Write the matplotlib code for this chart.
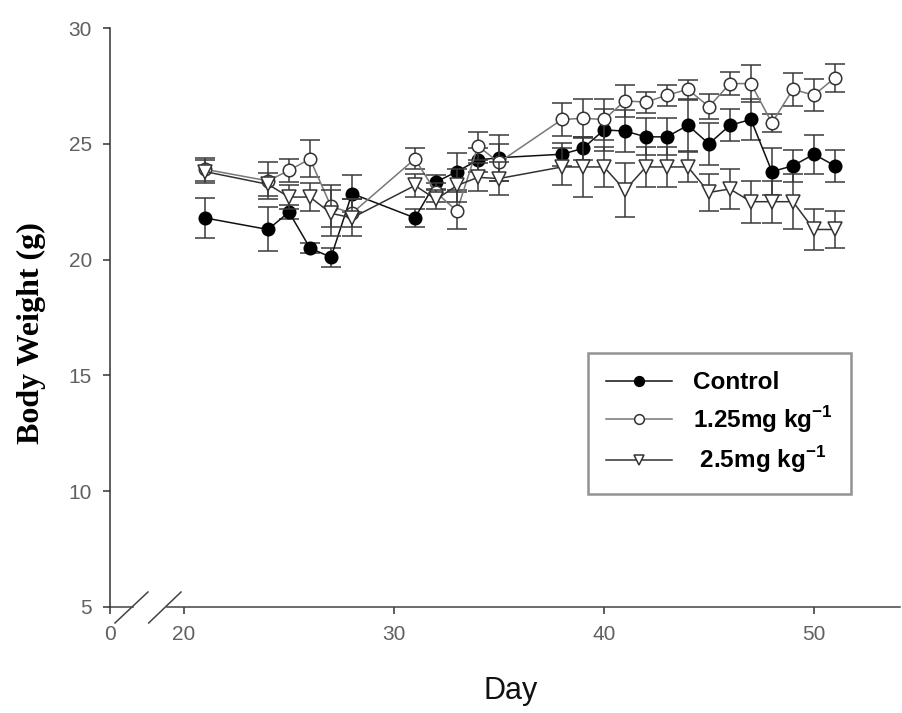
import matplotlib
matplotlib.use("Agg")
import matplotlib.pyplot as plt
from matplotlib.lines import Line2D

plt.rcParams["mathtext.fontset"] = "custom"
plt.rcParams["mathtext.bf"] = "Liberation Sans:bold"
plt.rcParams["mathtext.rm"] = "Liberation Sans:bold"

# body weight (g) per group, mean and SEM
days = [21, 24, 25, 26, 27, 28, 31, 32, 33, 34, 35, 38, 39, 40, 41, 42, 43,
        44, 45, 46, 47, 48, 49, 50, 51]

control = [21.8, 21.3, 22.05, 20.5, 20.1, 22.85, 21.8, 23.35, 23.8, 24.3, 24.4,
           24.55, 24.8, 25.6, 25.55, 25.3, 25.3, 25.8, 25.0, 25.8, 26.05, 23.8,
           24.05, 24.55, 24.05]
control_err = [0.85, 0.95, 0.3, 0.2, 0.4, 0.8, 0.4, 0.3, 0.8, 0.5, 1.0, 0.5,
               0.5, 0.9, 0.9, 0.8, 0.8, 1.1, 0.9, 0.7, 0.9, 1.0, 0.7, 0.85, 0.7]

dose_125 = [23.9, 23.4, 23.85, 24.35, 22.3, 22.0, 24.35, 22.9, 22.1, 24.9, 24.2,
            26.05, 26.1, 26.05, 26.85, 26.8, 27.1, 27.35, 26.6, 27.6, 27.6, 25.9,
            27.35, 27.1, 27.85]
dose_125_err = [0.5, 0.8, 0.5, 0.8, 0.9, 0.6, 0.45, 0.4, 0.8, 0.6, 0.8, 0.7,
                0.85, 0.9, 0.7, 0.45, 0.45, 0.4, 0.55, 0.5, 0.8, 0.4, 0.7, 0.7, 0.6]

dose_25 = [23.8, 23.25, 22.7, 22.7, 22.0, 21.8, 23.2, 22.6, 23.2, 23.55, 23.5,
           24.0, 24.0, 24.0, 23.0, 24.0, 24.0, 24.0, 22.9, 23.05, 22.5, 22.5,
           22.5, 21.3, 21.3]
dose_25_err = [0.5, 0.5, 0.5, 0.6, 1.0, 0.8, 0.5, 0.4, 0.7, 0.6, 0.7, 0.8,
               1.3, 0.85, 1.15, 0.85, 0.85, 0.65, 0.8, 0.85, 0.9, 0.9, 1.2, 0.9, 0.8]

labels = ["Control", r"1.25mg kg$^{-1}$", r" 2.5mg kg$^{-1}$"]

x_min = 20 - 74 / 21  # left edge of the broken axis, shown as "0"
x_max = 54.1

fig = plt.figure(figsize=(9.02, 7.13), dpi=100)
ax = fig.add_axes([110 / 902, 1 - 607 / 713, 790 / 902, 579 / 713])

styles = [
    dict(color="#111111", marker="o", ms=9, mfc="black", mec="black"),
    dict(color="#777777", marker="o", ms=9, mfc="white", mec="#333333"),
    dict(color="#333333", marker="v", ms=10, mfc="white", mec="#333333"),
]
series = [(control, control_err), (dose_125, dose_125_err), (dose_25, dose_25_err)]

for i, ((vals, errs), st) in enumerate(zip(series, styles)):
    ax.errorbar(days, vals, yerr=errs, ecolor="#3a3a3a", elinewidth=1.1,
                capsize=7, capthick=1.1, lw=1.1, mew=1.1, zorder=3 + i, **st)

ax.set_xlim(x_min, x_max)
ax.set_ylim(5, 30)
ax.set_yticks([5, 10, 15, 20, 25, 30])
ax.set_xticks([x_min, 20, 30, 40, 50])
ax.set_xticklabels(["0", "20", "30", "40", "50"])

for side in ["top", "right", "bottom"]:
    ax.spines[side].set_visible(False)
ax.spines["left"].set_color("#333333")
ax.spines["left"].set_linewidth(1.1)

ax.tick_params(direction="out", length=5, width=1.1, color="#333333",
               labelsize=15, labelcolor="#606060", pad=8)
for lab in ax.get_xticklabels() + ax.get_yticklabels():
    lab.set_family("Liberation Sans")

# bottom axis with a break between 0 and 20
kw = dict(transform=ax.transAxes, clip_on=False, color="#444444", lw=1.1)
ax.plot([0, 0.029], [0, 0], **kw)
ax.plot([0.072, 1.0], [0, 0], **kw)
ax.plot([0.0063, 0.048], [-0.0276, 0.0259], **kw)
ax.plot([0.049, 0.0899], [-0.0276, 0.0259], **kw)

fig.text(511 / 902, 1 - 691 / 713, "Day", ha="center", va="center",
         fontsize=22, family="Liberation Sans", color="#111111")
fig.text(31 / 902, 1 - 333 / 713, "Body Weight (g)", ha="center", va="center",
         rotation=90, fontsize=23, fontweight="bold", family="Liberation Serif")

# legend without error bars
handles = [Line2D([], [], lw=1.1, mew=1.1, **dict(st, ms=7)) for st in styles]
leg = ax.legend(handles, labels, loc="upper left",
                bbox_to_anchor=(478 / 790, (607 - 353) / 579),
                frameon=True, fancybox=False, borderpad=0.75, labelspacing=0.4,
                handlelength=2.7, handletextpad=0.85, borderaxespad=0,
                prop={"family": "Liberation Sans", "weight": "bold", "size": 17.5})
leg.get_frame().set_edgecolor("#777777")
leg.get_frame().set_linewidth(1.8)

fig.savefig("out.png", dpi=100)
